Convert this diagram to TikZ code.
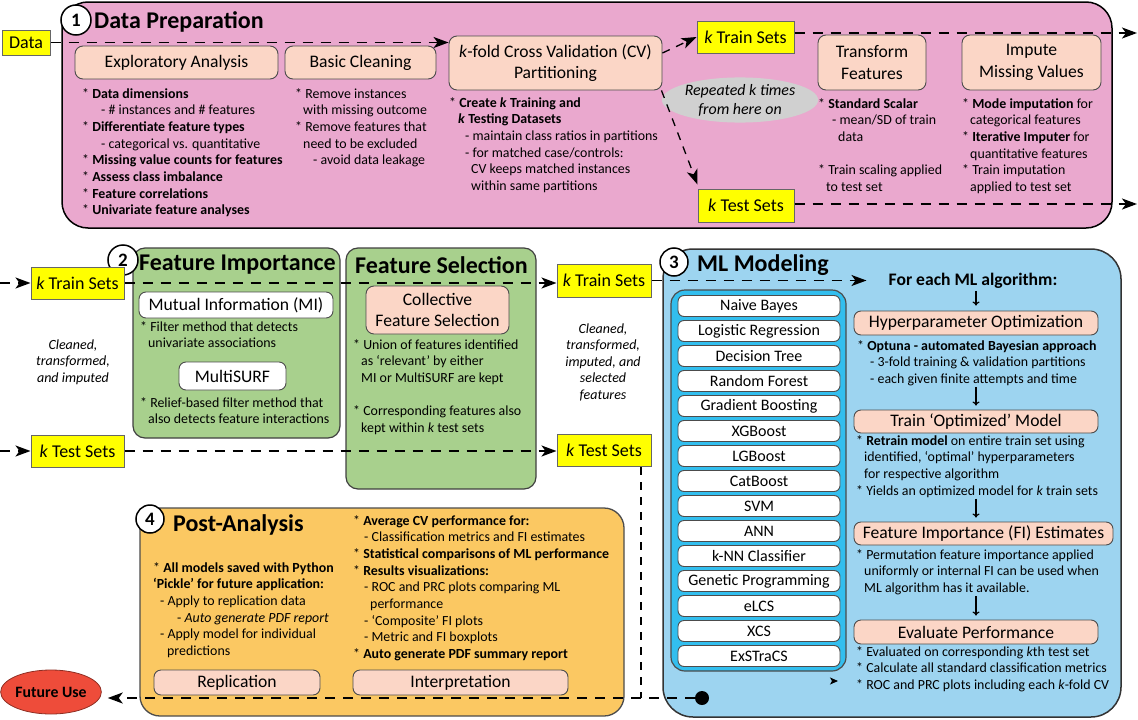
\documentclass[tikz,border=0pt]{standalone}
\usepackage{fontspec}
\setmainfont{Carlito}
\usetikzlibrary{arrows.meta,shapes.geometric}

\definecolor{prepfill}{RGB}{234,168,206}
\definecolor{salmon}{RGB}{251,214,198}
\definecolor{greenfill}{RGB}{168,208,141}
\definecolor{mlblue}{RGB}{157,212,240}
\definecolor{algblue}{RGB}{50,190,238}
\definecolor{postorange}{RGB}{251,200,98}
\definecolor{repgray}{RGB}{208,208,208}
\definecolor{setyellow}{RGB}{255,255,0}
\definecolor{futred}{RGB}{238,76,58}

\newcommand{\ind}[1]{\hspace*{#1pt}}

\begin{document}
\begin{tikzpicture}[x=1pt,y=-1pt,
  sz/.style 2 args={minimum width=#1pt, minimum height=#2pt},
  stage/.style={draw=black, line width=1.5pt, inner sep=0pt},
  numcirc/.style={circle, draw=black, fill=white, line width=1.5pt, minimum size=30pt, inner sep=0pt, font=\bfseries\fontsize{19}{19}\selectfont},
  ttl/.style={font=\bfseries\fontsize{24}{26}\selectfont, inner sep=0pt},
  stepbox/.style={draw=black!70, fill=salmon, line width=0.9pt, rounded corners=8pt, inner sep=0pt, align=center, font=\fontsize{17.6}{21.5}\selectfont},
  whitebox/.style={draw=black!70, fill=white, line width=0.9pt, rounded corners=7pt, inner sep=0pt, font=\fontsize{17.6}{20}\selectfont},
  setbox/.style={draw=black!60, fill=setyellow, line width=1pt, inner sep=0pt, font=\fontsize{18}{20}\selectfont},
  body/.style={anchor=north west, inner sep=0pt, align=left, font=\fontsize{13.9}{16.7}\selectfont},
  note/.style={inner sep=0pt, align=center, font=\itshape\fontsize{14}{16.5}\selectfont},
  alg/.style={draw=black!70, fill=white, line width=0.9pt, rounded corners=6pt, sz={162}{21}, inner sep=0pt, font=\fontsize{16}{17}\selectfont},
  flow/.style={line width=1.7pt, dash pattern=on 10pt off 8pt},
  thinflow/.style={line width=1.2pt, dash pattern=on 8pt off 7pt},
  flowtip/.style={-{Stealth[length=15pt,width=11pt,inset=4pt]}},
  steparrow/.style={line width=1.2pt, -{To[length=4pt,width=7pt]}},
]
\useasboundingbox (0,0) rectangle (1138,720);

% ---------- Stage 1: data preparation ----------
\node[stage, fill=prepfill, rounded corners=26pt, sz={1050}{226}] (prep) at (587,115) {};
\node[numcirc] (n1) at (76,20) {1};
\node[ttl, anchor=west] (t1) at (94,22) {Data Preparation};
\node[setbox, sz={48}{25}] (data) at (26,42.5) {Data};

\node[stepbox, sz={203}{33}] (explo) at (176.5,62.5) {Exploratory Analysis};
\node[stepbox, sz={151}{33}] (clean) at (360.5,62.5) {Basic Cleaning};
\node[stepbox, sz={213}{54}] (cv) at (555.5,63) {\textit{k}-fold Cross Validation (CV)\\Partitioning};
\node[setbox, sz={97}{32}] (train1) at (745.5,37) {\textit{k} Train Sets};
\node[setbox, sz={96}{33}] (test1) at (746,205.5) {\textit{k} Test Sets};
\node[ellipse, fill=repgray, sz={136}{42}, inner sep=0pt, align=center, font=\itshape\fontsize{15.9}{19}\selectfont] (rep) at (740,100) {Repeated \textit{k} times\\from here on};
\node[stepbox, sz={108}{55}] (transf) at (872,62.5) {Transform\\Features};
\node[stepbox, sz={139}{55}] (imput) at (1031.5,62.5) {Impute\\Missing Values};

\node[body] (exploBul) at (82,88) {%
* \textbf{Data dimensions}\\
\ind{19}- \# instances and \# features\\
* \textbf{Differentiate feature types}\\
\ind{19}- categorical vs. quantitative\\
* \textbf{Missing value counts for features}\\
* \textbf{Assess class imbalance}\\
* \textbf{Feature correlations}\\
* \textbf{Univariate feature analyses}};

\node[body] (cleanBul) at (295,88) {%
* Remove instances\\
\ind{8}with missing outcome\\
* Remove features that\\
\ind{8}need to be excluded\\
\ind{18}- avoid data leakage};

\node[body] (cvBul) at (449,97) {%
* \textbf{Create \textit{k} Training and}\\
\ind{9}\textbf{\textit{k} Testing Datasets}\\
\ind{16}- maintain class ratios in partitions\\
\ind{16}- for matched case/controls:\\
\ind{22}CV keeps matched instances\\
\ind{22}within same partitions};

\node[body] (transfBul) at (818,98) {%
* \textbf{Standard Scalar}\\
\ind{14}- mean/SD of train\\
\ind{20}data\\[16.7pt]
* Train scaling applied\\
\ind{8}to test set};

\node[body] (imputBul) at (962,98) {%
* \textbf{Mode imputation} for\\
\ind{8}categorical features\\
* \textbf{Iterative Imputer} for\\
\ind{8}quantitative features\\
* Train imputation\\
\ind{8}applied to test set};

% ---------- Stage 2: feature importance and selection ----------
\node[stage, fill=greenfill, draw=black!75, line width=1.2pt, rounded corners=12pt, sz={207}{190}] (fi) at (236.5,343) {};
\node[stage, fill=greenfill, draw=black!75, line width=1.2pt, rounded corners=12pt, sz={190}{241}] (fs) at (441,368.5) {};
\node[numcirc] (n2) at (123,260) {2};
\node[ttl] (t2) at (237.5,265) {Feature Importance};
\node[ttl] (t2b) at (441.5,265) {Feature Selection};

\node[setbox, sz={93}{32}] (train2) at (77.5,283) {\textit{k} Train Sets};
\node[setbox, sz={93}{32}] (test2) at (77.5,451) {\textit{k} Test Sets};
\node[note] (note1) at (73,362) {Cleaned,\\transformed,\\and imputed};

\node[whitebox, sz={194}{26}] (mi) at (236,305) {Mutual Information (MI)};
\node[body] (miBul) at (140,321) {%
* Filter method that detects\\
\ind{8}univariate associations};
\node[whitebox, sz={107}{28}] (msurf) at (232.5,376) {MultiSURF};
\node[body] (msBul) at (140,397) {%
* Relief-based filter method that\\
\ind{8}also detects feature interactions};

\node[stepbox, sz={143}{48}, font=\fontsize{17.6}{21}\selectfont] (coll) at (437.5,310) {Collective\\Feature Selection};
\node[body] (fsBul) at (353,339) {%
* Union of features identified\\
\ind{8}as ‘relevant’ by either\\
\ind{8}MI or MultiSURF are kept\\[16.7pt]
* Corresponding features also\\
\ind{8}kept within \textit{k} test sets};

\node[setbox, sz={94}{33}] (train3) at (604,280.5) {\textit{k} Train Sets};
\node[setbox, sz={94}{32}] (test3) at (604,450.5) {\textit{k} Test Sets};
\node[note] (note2) at (603,362) {Cleaned,\\transformed,\\imputed, and\\selected\\features};

% ---------- Stage 3: ML modeling ----------
\node[stage, fill=mlblue, draw=black!80, rounded corners=30pt, sz={458}{468}] (ml) at (892,483) {};
\node[numcirc, minimum size=28pt] (n3) at (674,262) {3};
\node[ttl, anchor=west] (t3) at (697,265) {ML Modeling};

\node[draw=black!70, fill=algblue, line width=1.2pt, rounded corners=14pt, sz={175}{381}, inner sep=0pt] (algs) at (758.5,480.5) {};
\foreach \name [count=\i from 0] in {Naive Bayes, Logistic Regression, Decision Tree, Random Forest, Gradient Boosting, XGBoost, LGBoost, CatBoost, SVM, ANN, k-NN Classifier, Genetic Programming, eLCS, XCS, ExSTraCS}
  \node[alg] (alg\i) at (759,306+25*\i) {\name};

\node[font=\bfseries\fontsize{17.6}{20}\selectfont, inner sep=0pt] (each) at (973,281) {For each ML algorithm:};
\node[stepbox, sz={244}{24}, rounded corners=7pt] (hyper) at (976,323) {Hyperparameter Optimization};
\node[body] (hypBul) at (857,340) {%
* \textbf{Optuna - automated Bayesian approach}\\
\ind{13}- 3-fold training \& validation partitions\\
\ind{13}- each given finite attempts and time};
\node[stepbox, sz={244}{23}, rounded corners=7pt] (trainm) at (976,421.5) {Train ‘Optimized’ Model};
\node[body] (trBul) at (856,435) {%
* \textbf{Retrain model} on entire train set using\\
\ind{8}identified, ‘optimal’ hyperparameters\\
\ind{8}for respective algorithm\\
* Yields an optimized model for \textit{k} train sets};
\node[stepbox, sz={259}{23}, rounded corners=7pt] (fiest) at (983.5,533.5) {Feature Importance (FI) Estimates};
\node[body] (fiBul) at (856,549) {%
* Permutation feature importance applied\\
\ind{8}uniformly or internal FI can be used when\\
\ind{8}ML algorithm has it available.};
\node[stepbox, sz={244}{24}, rounded corners=7pt] (eval) at (976,632) {Evaluate Performance};
\node[body] (evBul) at (856,646) {%
* Evaluated on corresponding \textit{k}th test set\\
* Calculate all standard classification metrics\\
* ROC and PRC plots including each \textit{k}-fold CV};

\draw[steparrow, shorten <=2pt, shorten >=5pt] (hyper.north |- each.south) -- (hyper.north);
\draw[steparrow, shorten <=1pt, shorten >=4pt] (hyper.south |- hypBul.south) -- (trainm.north);
\draw[steparrow, shorten <=1pt, shorten >=4pt] (trainm.south |- trBul.south) -- (trainm.south |- fiest.north);
\draw[steparrow, shorten <=1pt, shorten >=4pt] (eval.north |- fiBul.south) -- (eval.north);

% ---------- Stage 4: post-analysis ----------
\node[stage, fill=postorange, draw=black!70, line width=1.3pt, rounded corners=20pt, sz={484}{208}] (post) at (382,612) {};
\node[numcirc, minimum size=28pt] (n4) at (150,519) {4};
\node[ttl, anchor=west] (t4) at (173,525) {Post-Analysis};
\node[body] (paL) at (153,562) {%
* \textbf{All models saved with Python}\\
\textbf{‘Pickle’ for future application:}\\
\ind{7}- Apply to replication data\\
\ind{24}- \textit{Auto generate PDF report}\\
\ind{7}- Apply model for individual\\
\ind{14}predictions};
\node[body] (paR) at (353,515) {%
* \textbf{Average CV performance for:}\\
\ind{11}- Classification metrics and FI estimates\\
* \textbf{Statistical comparisons of ML performance}\\
* \textbf{Results visualizations:}\\
\ind{11}- ROC and PRC plots comparing ML\\
\ind{17}performance\\
\ind{11}- ‘Composite’ FI plots\\
\ind{11}- Metric and FI boxplots\\
* \textbf{Auto generate PDF summary report}};
\node[stepbox, sz={166}{25}, rounded corners=7pt] (repl) at (237,682.5) {Replication};
\node[stepbox, sz={215}{25}, rounded corners=7pt] (interp) at (460.5,682.5) {Interpretation};

\node[ellipse, fill=futred, draw=futred!60!black, line width=0.8pt, sz={94}{44}, inner sep=0pt, font=\bfseries\fontsize{15.8}{18}\selectfont] (future) at (51,692) {Future Use};
\node[circle, fill=black, minimum size=14pt, inner sep=0pt] (dot) at (702,698) {};

% ---------- data flow ----------
\coordinate (out1) at (1137,33);
\coordinate (out2) at (1137,204);
\coordinate (in1) at (0,283);
\coordinate (in2) at (0,451);
\coordinate (join) at (641,698);
\coordinate (stray) at (838,681);

\draw[flow, flowtip] (data.east) -- (data.east -| cv.west);
\draw[flow, flowtip, line width=1.3pt, dash pattern=on 8pt off 7pt] ([yshift=10pt]cv.east) -- (train1.west);
\draw[flow, flowtip, line width=1.3pt, dash pattern=on 8pt off 7pt] ([xshift=-1pt]cv.south east) -- ([yshift=4pt]test1.north west);
\draw[flow, flowtip] (train1.east |- out1) -- (out1);
\draw[flow, flowtip] (test1.east |- out2) -- (out2);

\draw[flow, flowtip] (in1) -- (train2.west);
\draw[flow, flowtip] (in2) -- (test2.west);
\draw[flow, flowtip] (train2.east) -- (train2.east -| train3.west);
\draw[flow, flowtip] (test2.east) -- (test2.east -| test3.west);
\draw[flow, flowtip, shorten >=22pt] (train3.east) -- (train3.east -| each.west);

\draw[thinflow] (test3.south -| join) -- (join);
\draw[flow, flowtip, shorten >=6pt] (dot) -- (dot -| future.east);
\draw[line width=1pt, -{Stealth[length=8pt,width=7pt,inset=2pt]}] ([xshift=-6pt]stray) -- (stray);
\end{tikzpicture}
\end{document}
